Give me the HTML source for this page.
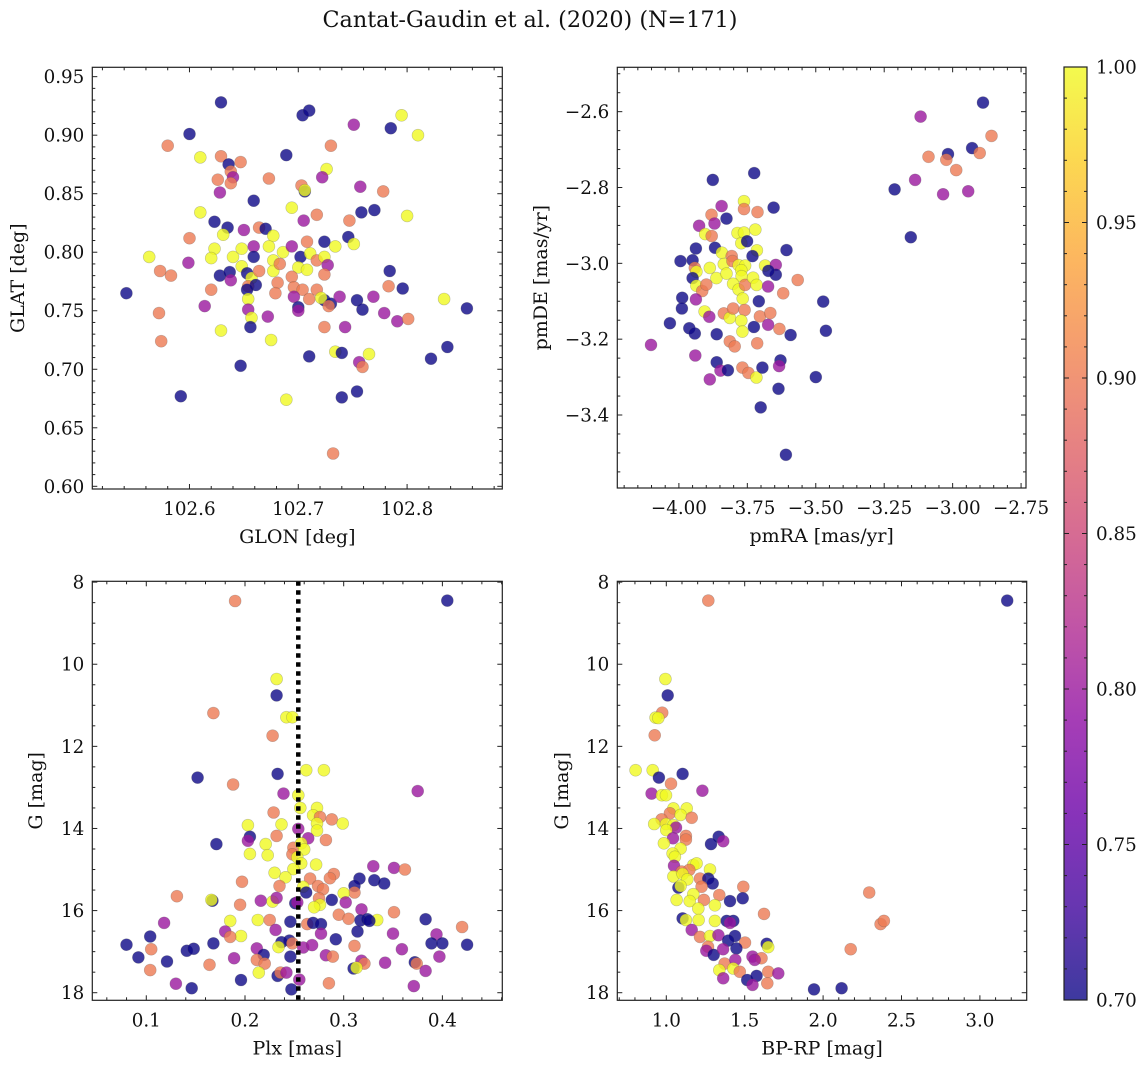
<!DOCTYPE html>
<html><head><meta charset="utf-8"><title>Cantat-Gaudin et al. (2020)</title>
<style>
html,body{margin:0;padding:0;background:#fff;}
svg{display:block;font-family:"DejaVu Serif","Liberation Serif",serif;}
</style></head>
<body>
<svg id="fig" width="1148" height="1067" viewBox="0 0 1148 1067" xmlns="http://www.w3.org/2000/svg">
<text x="530" y="27" font-size="22.3" text-anchor="middle" fill="#111">Cantat-Gaudin et al. (2020) (N=171)</text>
</svg>
<script>
// ---------- data (B=0.70, P=0.80, S=0.90, Y=1.00) ----------
const p1x=[102.629,102.704,102.710,102.600,102.751,102.785,102.795,102.810,102.580,102.689,102.730,102.610,102.629,102.636,102.647,102.638,102.640,102.638,102.626,102.673,102.726,102.722,102.703,102.706,102.706,102.628,102.757,102.778,102.659,102.610,102.694,102.717,102.705,102.747,102.758,102.770,102.800,102.623,102.635,102.631,102.600,102.650,102.664,102.670,102.677,102.708,102.724,102.734,102.746,102.751,102.563,102.623,102.620,102.599,102.573,102.583,102.628,102.637,102.640,102.648,102.659,102.659,102.648,102.653,102.657,102.664,102.673,102.677,102.677,102.686,102.694,102.683,102.702,102.700,102.708,102.711,102.717,102.724,102.727,102.724,102.694,102.696,102.704,102.681,102.679,102.654,102.661,102.653,102.638,102.620,102.542,102.572,102.614,102.654,102.654,102.657,102.656,102.672,102.696,102.700,102.700,102.710,102.717,102.724,102.721,102.730,102.738,102.728,102.724,102.743,102.754,102.759,102.769,102.779,102.783,102.784,102.796,102.791,102.801,102.834,102.855,102.837,102.822,102.574,102.629,102.675,102.647,102.710,102.734,102.740,102.765,102.756,102.759,102.592,102.689,102.740,102.754,102.732];
const p1y=[0.928,0.917,0.921,0.901,0.909,0.906,0.917,0.900,0.891,0.883,0.891,0.881,0.882,0.875,0.877,0.869,0.864,0.859,0.862,0.863,0.871,0.864,0.857,0.852,0.853,0.851,0.856,0.852,0.844,0.834,0.838,0.832,0.827,0.827,0.834,0.836,0.831,0.826,0.821,0.815,0.812,0.819,0.821,0.820,0.814,0.809,0.809,0.805,0.813,0.807,0.796,0.803,0.795,0.791,0.784,0.780,0.780,0.783,0.796,0.803,0.805,0.796,0.788,0.782,0.778,0.784,0.805,0.793,0.784,0.800,0.805,0.790,0.796,0.787,0.785,0.799,0.793,0.796,0.789,0.781,0.779,0.770,0.768,0.774,0.765,0.771,0.772,0.768,0.776,0.768,0.765,0.748,0.754,0.760,0.751,0.744,0.736,0.745,0.762,0.753,0.750,0.760,0.768,0.759,0.761,0.756,0.762,0.754,0.736,0.736,0.759,0.751,0.762,0.748,0.771,0.784,0.769,0.741,0.743,0.760,0.752,0.719,0.709,0.724,0.733,0.725,0.703,0.711,0.715,0.714,0.713,0.706,0.702,0.677,0.674,0.676,0.681,0.628];
const p1c=[0.7,0.7,0.7,0.7,0.8,0.7,1,1,0.9,0.7,0.9,1,0.9,0.7,0.9,0.9,0.8,0.9,0.9,0.9,1,0.8,0.9,0.7,1,0.8,0.8,0.9,0.7,1,1,0.9,0.8,0.9,0.7,0.7,1,0.7,0.7,1,0.9,0.8,0.9,0.7,1,0.9,0.7,1,0.7,1,1,1,1,0.8,0.9,0.9,0.7,0.7,1,1,0.8,0.7,1,0.7,1,0.9,1,1,1,1,0.8,0.9,0.7,1,1,1,0.9,1,0.8,0.9,0.9,0.9,0.9,0.9,0.9,0.9,0.7,0.7,0.8,0.9,0.7,0.9,0.8,1,0.8,1,0.7,0.8,0.8,0.7,0.8,0.9,0.9,0.7,1,0.7,0.8,0.9,0.9,0.8,0.7,0.7,0.8,0.8,0.9,0.7,0.7,0.8,0.9,1,0.7,0.7,0.7,0.9,1,1,0.7,0.7,1,0.7,1,0.8,0.9,0.7,1,0.7,0.7,0.9];

const p2x=[-2.889,-3.117,-2.858,-2.929,-2.901,-3.017,-3.088,-3.023,-2.987,-3.137,-3.212,-3.035,-2.943,-3.153,-3.725,-3.876,-3.762,-3.762,-3.713,-3.654,-3.844,-3.881,-3.826,-3.870,-3.926,-3.904,-3.880,-3.786,-3.762,-3.721,-3.772,-3.751,-3.715,-3.731,-3.607,-3.938,-3.868,-3.843,-3.807,-3.994,-3.950,-3.942,-3.936,-3.950,-3.936,-3.887,-3.863,-3.836,-3.826,-3.804,-3.782,-3.758,-3.772,-3.771,-3.802,-3.782,-3.767,-3.758,-3.729,-3.716,-3.685,-3.646,-3.646,-3.673,-3.674,-3.619,-3.566,-3.915,-3.900,-3.938,-3.988,-3.989,-4.033,-3.962,-3.942,-3.906,-3.889,-3.862,-3.836,-3.814,-3.802,-3.760,-3.772,-3.768,-3.814,-3.796,-3.726,-3.708,-3.704,-3.674,-3.666,-3.633,-3.592,-3.714,-3.473,-3.463,-4.102,-3.940,-3.862,-3.848,-3.821,-3.887,-3.768,-3.746,-3.717,-3.695,-3.629,-3.634,-3.500,-3.636,-3.701,-3.609];
const p2y=[-2.576,-2.613,-2.664,-2.696,-2.709,-2.712,-2.719,-2.727,-2.754,-2.780,-2.805,-2.818,-2.810,-2.931,-2.762,-2.780,-2.836,-2.857,-2.865,-2.853,-2.849,-2.872,-2.882,-2.895,-2.901,-2.923,-2.928,-2.920,-2.919,-2.911,-2.947,-2.942,-2.966,-2.981,-2.965,-2.961,-2.959,-2.972,-2.981,-2.994,-2.992,-3.012,-3.022,-3.039,-3.059,-3.012,-3.039,-3.002,-3.027,-2.994,-3.005,-3.006,-3.018,-3.034,-3.054,-3.069,-3.093,-3.057,-3.038,-3.057,-3.006,-3.004,-3.030,-3.020,-3.061,-3.079,-3.044,-3.073,-3.056,-3.095,-3.091,-3.119,-3.158,-3.171,-3.185,-3.127,-3.141,-3.187,-3.132,-3.144,-3.119,-3.123,-3.151,-3.180,-3.206,-3.219,-3.168,-3.100,-3.140,-3.162,-3.131,-3.173,-3.189,-3.211,-3.101,-3.178,-3.215,-3.243,-3.261,-3.283,-3.282,-3.306,-3.275,-3.289,-3.301,-3.275,-3.256,-3.271,-3.300,-3.331,-3.380,-3.505];
const p2c=[0.7,0.8,0.9,0.7,0.9,0.7,0.9,0.9,0.9,0.8,0.7,0.8,0.8,0.7,0.7,0.7,1,0.9,0.9,0.7,0.8,0.9,0.7,0.8,0.8,1,0.9,1,1,1,1,0.7,1,0.7,0.7,0.7,0.7,1,0.9,0.7,0.7,0.9,1,0.7,1,1,1,1,1,0.9,1,1,1,1,1,1,1,0.9,1,1,1,0.8,0.7,0.7,0.8,0.9,0.9,0.9,0.9,0.8,0.7,0.7,0.7,0.7,0.7,1,0.8,0.7,0.9,1,0.9,0.9,1,1,0.9,0.9,0.7,0.7,0.9,0.8,0.9,0.9,0.7,0.9,0.7,0.7,0.8,0.8,0.7,0.8,0.7,0.8,0.9,0.9,1,0.7,0.7,0.8,0.7,0.7,0.7,0.7];

const p3x=[0.190,0.405,0.232,0.232,0.168,0.242,0.248,0.228,0.262,0.280,0.233,0.152,0.188,0.239,0.254,0.375,0.256,0.273,0.269,0.276,0.288,0.299,0.273,0.229,0.203,0.237,0.273,0.254,0.205,0.203,0.232,0.264,0.282,0.171,0.221,0.223,0.205,0.249,0.257,0.260,0.248,0.253,0.257,0.272,0.249,0.330,0.351,0.362,0.230,0.241,0.266,0.290,0.286,0.316,0.331,0.341,0.197,0.235,0.259,0.274,0.279,0.311,0.311,0.300,0.262,0.131,0.167,0.166,0.216,0.228,0.232,0.251,0.253,0.275,0.276,0.270,0.288,0.302,0.195,0.318,0.351,0.295,0.305,0.383,0.420,0.317,0.324,0.334,0.326,0.185,0.213,0.225,0.246,0.263,0.269,0.277,0.118,0.104,0.196,0.180,0.185,0.231,0.314,0.277,0.350,0.394,0.080,0.105,0.141,0.148,0.168,0.237,0.245,0.248,0.259,0.268,0.292,0.311,0.359,0.389,0.400,0.425,0.092,0.121,0.189,0.212,0.219,0.212,0.220,0.234,0.246,0.282,0.289,0.318,0.321,0.342,0.372,0.374,0.397,0.383,0.104,0.164,0.214,0.233,0.236,0.242,0.255,0.310,0.313,0.196,0.130,0.146,0.247,0.285,0.371];
const p3y=[8.46,8.45,10.36,10.76,11.19,11.29,11.29,11.74,12.58,12.58,12.67,12.76,12.93,13.15,13.19,13.09,13.50,13.50,13.68,13.72,13.78,13.88,13.88,13.61,13.92,13.90,14.05,14.01,14.20,14.30,14.18,14.24,14.28,14.38,14.38,14.65,14.62,14.47,14.36,14.51,14.63,14.70,14.85,14.88,14.99,14.92,14.96,15.00,15.08,15.19,15.22,15.11,15.21,15.22,15.26,15.34,15.30,15.40,15.42,15.40,15.48,15.40,15.56,15.58,15.56,15.65,15.76,15.74,15.76,15.78,15.69,15.82,15.80,15.70,15.86,15.92,15.74,15.80,15.86,15.97,16.04,16.10,16.20,16.21,16.40,16.24,16.21,16.23,16.25,16.25,16.23,16.23,16.27,16.33,16.30,16.33,16.30,16.63,16.62,16.51,16.64,16.47,16.51,16.56,16.56,16.58,16.83,16.94,16.98,16.93,16.80,16.77,16.73,16.80,16.90,16.84,16.70,16.86,16.94,16.80,16.80,16.83,17.14,17.24,17.16,16.92,17.08,17.20,17.29,16.89,17.12,17.09,17.12,17.22,17.29,17.27,17.26,17.29,17.12,17.47,17.45,17.32,17.51,17.59,17.51,17.51,17.68,17.41,17.39,17.69,17.78,17.89,17.92,17.77,17.84];
const p3c=[0.9,0.7,1,0.7,0.9,1,1,0.9,1,1,0.7,0.7,0.9,0.8,1,0.8,1,1,1,0.9,0.9,1,1,0.9,1,1,1,0.8,0.7,0.8,0.9,0.8,0.9,0.7,1,1,1,0.9,1,1,0.9,1,1,1,1,0.8,0.8,0.9,1,1,0.9,0.9,0.9,0.7,0.7,0.7,0.9,0.9,1,0.9,0.9,0.7,0.9,1,0.7,0.9,0.7,1,0.8,1,0.8,0.7,0.8,0.9,1,1,0.7,0.8,0.9,0.8,0.9,0.9,0.9,0.7,0.9,0.7,0.7,1,0.7,1,1,0.9,0.7,0.9,0.7,0.7,0.8,0.7,1,0.8,0.9,0.8,0.7,0.8,0.8,0.8,0.7,0.9,0.7,0.7,0.7,0.7,0.7,0.9,0.8,0.8,0.7,0.9,0.8,0.7,0.7,0.7,0.7,0.7,0.8,0.8,0.7,0.9,0.9,1,0.7,0.8,0.9,0.8,0.9,0.8,0.7,0.9,0.8,0.8,0.9,0.9,1,0.7,0.9,0.8,0.8,0.7,1,0.7,0.8,0.7,0.7,0.9,0.8];

const p4x=[1.268,3.174,0.994,1.009,0.974,0.932,0.949,0.926,0.804,0.913,0.953,1.104,1.030,1.230,0.906,0.972,0.998,1.045,1.130,1.023,1.091,1.162,0.970,0.923,0.998,1.045,1.062,1.000,1.125,1.125,1.043,1.334,1.285,1.363,0.985,1.091,1.040,1.055,1.049,1.172,1.193,1.279,1.098,1.147,1.045,1.104,1.134,1.215,1.268,1.296,1.077,1.091,1.225,1.491,1.338,1.487,1.172,1.066,1.149,1.240,1.406,1.204,1.310,1.623,1.104,1.125,1.206,1.310,1.385,1.427,1.406,1.162,1.215,1.279,1.332,1.438,1.502,1.395,1.266,1.255,1.302,1.362,1.447,1.640,1.650,1.550,1.607,1.564,1.372,1.440,1.427,1.469,1.338,1.363,1.516,1.576,1.550,1.650,1.714,1.644,1.942,2.118,2.176,2.294,2.367,2.388];
const p4y=[8.45,8.45,10.36,10.76,11.18,11.30,11.31,11.73,12.58,12.58,12.76,12.67,12.91,13.08,13.15,13.19,13.19,13.51,13.51,13.63,13.67,13.74,13.78,13.89,13.89,13.92,13.98,14.04,14.18,14.27,14.24,14.20,14.38,14.31,14.36,14.49,14.61,14.69,14.91,14.89,14.85,15.00,15.05,15.01,15.17,15.11,15.24,15.22,15.22,15.34,15.44,15.40,15.42,15.42,15.62,15.70,15.60,15.74,15.77,15.74,15.77,15.95,15.87,16.08,16.19,16.23,16.23,16.25,16.25,16.25,16.30,16.47,16.64,16.62,16.60,16.62,16.78,16.73,16.88,16.98,17.08,16.94,16.92,16.81,16.89,17.12,17.16,17.20,17.29,17.20,17.41,17.49,17.45,17.65,17.69,17.59,17.81,17.49,17.53,17.77,17.92,17.89,16.94,15.56,16.33,16.25];
const p4c=[0.9,0.7,1,0.7,0.9,1,1,0.9,1,1,0.7,0.7,0.9,0.8,0.8,1,1,1,1,0.9,1,0.9,0.9,1,1,1,0.8,1,0.9,0.9,0.8,0.7,0.7,0.8,1,1,1,1,0.8,1,1,1,0.9,0.9,1,1,1,0.9,0.7,0.7,0.7,1,0.9,0.9,0.9,0.7,1,1,1,0.9,0.7,1,1,0.9,0.7,1,1,1,0.7,0.7,0.8,0.8,0.9,1,0.8,0.7,0.9,0.7,0.9,0.8,0.7,0.8,0.7,0.7,1,0.8,0.9,0.8,0.9,0.8,1,0.9,1,0.8,0.7,0.7,0.8,0.9,0.8,0.9,0.7,0.7,0.9,0.9,0.9,0.9];

const cbTicks=[0.70,0.75,0.80,0.85,0.90,0.95,1.00];
const plxRef=[0.254];

// ---------- helpers ----------
const NS="http://www.w3.org/2000/svg";
const svg=document.getElementById('fig');
function mk(tag,attrs,parent){const e=document.createElementNS(NS,tag);for(const k in attrs)e.setAttribute(k,attrs[k]);(parent||svg).appendChild(e);return e;}
const stops=['#0d0887','#41049d','#6a00a8','#8f0da4','#b12a90','#cc4778','#e16462','#f2844b','#fca636','#fcce25','#f0f921'];
function hex(h){return [parseInt(h.substr(1,2),16),parseInt(h.substr(3,2),16),parseInt(h.substr(5,2),16)];}
function plasma(t){t=Math.max(0,Math.min(1,t));const f=t*10,i=Math.min(9,Math.floor(f)),u=f-i;const a=hex(stops[i]),b=hex(stops[i+1]);return 'rgb('+a.map((v,k)=>Math.round(v+(b[k]-v)*u)).join(',')+')';}
function cmap(c){return plasma((c-0.7)/0.3);}
const MINUS='\u2212';
const TFS=18.3, LFS=19;

function panel(o){
  const g=mk('g',{});
  
  
  const X=v=>o.l+(v-o.xd[0])/(o.xd[1]-o.xd[0])*(o.r-o.l);
  const Y=o.yinv? (v=>o.t+(v-o.yd[0])/(o.yd[1]-o.yd[0])*(o.b-o.t)) : (v=>o.b-(v-o.yd[0])/(o.yd[1]-o.yd[0])*(o.b-o.t));
  const cp='clip-'+o.name;
  const cl=mk('clipPath',{id:cp},g);mk('rect',{x:o.l,y:o.t,width:o.r-o.l,height:o.b-o.t},cl);
  const pts=mk('g',{'clip-path':'url(#'+cp+')'},g);
  
  
  for(let i=0;i<o.x.length;i++){
    const c=mk('circle',{cx:X(o.x[i]).toFixed(1),cy:Y(o.y[i]).toFixed(1),r:6,fill:cmap(o.c[i]),'fill-opacity':0.8,stroke:'#555','stroke-opacity':0.35,'stroke-width':0.6},pts);
    
    
  }
  if(o.vline){
    const vl=mk('line',{x1:X(o.vline[0]),x2:X(o.vline[0]),y1:o.t,y2:o.b,stroke:'#000','stroke-width':4.5,'stroke-dasharray':'4.5,4.5'},g);
    
    
  }
  const tk=mk('g',{stroke:'#222','stroke-width':1},g);
  const eps=1e-9;
  for(let v=Math.ceil(o.xd[0]/o.xmin)*o.xmin;v<=o.xd[1]+eps;v+=o.xmin){const px=X(v);
    const major=o.xt.some(t=>Math.abs(t-v)<o.xmin/3);const L=major?5:3;
    mk('line',{x1:px,x2:px,y1:o.b,y2:o.b-L},tk);mk('line',{x1:px,x2:px,y1:o.t,y2:o.t+L},tk);}
  for(let v=Math.ceil(o.yd[0]/o.ymin)*o.ymin;v<=o.yd[1]+eps;v+=o.ymin){const py=Y(v);
    const major=o.yt.some(t=>Math.abs(t-v)<o.ymin/3);const L=major?5:3;
    mk('line',{x1:o.l,x2:o.l+L,y1:py,y2:py},tk);mk('line',{x1:o.r,x2:o.r-L,y1:py,y2:py},tk);}
  const fr=mk('rect',{x:o.l,y:o.t,width:o.r-o.l,height:o.b-o.t,fill:'none',stroke:'#222','stroke-width':1.2},g);
  
  
  o.xt.forEach(v=>{const t=mk('text',{x:X(v),y:o.b+26,'font-size':TFS,'text-anchor':'middle',fill:'#111'},g);t.textContent=o.xf(v);
    
    });
  o.yt.forEach(v=>{const t=mk('text',{x:o.l-8,y:Y(v)+6.5,'font-size':TFS,'text-anchor':'end',fill:'#111'},g);t.textContent=o.yf(v);
    
    });
  const xl=mk('text',{x:(o.l+o.r)/2,y:o.b+54,'font-size':LFS,'text-anchor':'middle',fill:'#111'},g);xl.textContent=o.xlab;
  
  
  const yl=mk('text',{x:0,y:0,'font-size':LFS,'text-anchor':'middle','dominant-baseline':'central',transform:'translate('+o.ylx+','+((o.t+o.b)/2)+') rotate(-90)',fill:'#111'},g);yl.textContent=o.ylab;
  
  
}
const neg=s=>s.replace('-',MINUS);
panel({name:'glon-glat-panel',l:92.3,t:67.3,r:502.3,b:489,xd:[102.5107,102.8875],yd:[0.5977,0.958],x:p1x,y:p1y,c:p1c,
  xt:[102.6,102.7,102.8],xmin:0.02,yt:[0.60,0.65,0.70,0.75,0.80,0.85,0.90,0.95],ymin:0.01,
  xf:v=>v.toFixed(1),yf:v=>v.toFixed(2),xlab:'GLON [deg]',ylab:'GLAT [deg]',ylx:18});
panel({name:'proper-motion-panel',l:617.3,t:67.3,r:1026,b:488,xd:[-4.225,-2.732],yd:[-3.5925,-2.483],x:p2x,y:p2y,c:p2c,
  xt:[-4.0,-3.75,-3.5,-3.25,-3.0,-2.75],xmin:0.05,yt:[-3.4,-3.2,-3.0,-2.8,-2.6],ymin:0.05,
  xf:v=>neg(v.toFixed(2)),yf:v=>neg(v.toFixed(1)),xlab:'pmRA [mas/yr]',ylab:'pmDE [mas/yr]',ylx:541});
panel({name:'parallax-mag-panel',l:92.3,t:581.3,r:502.3,b:1000.3,xd:[0.0453,0.4607],yd:[7.98,18.185],yinv:true,x:p3x,y:p3y,c:p3c,vline:plxRef,
  xt:[0.1,0.2,0.3,0.4],xmin:0.02,yt:[8,10,12,14,16,18],ymin:0.5,
  xf:v=>v.toFixed(1),yf:v=>String(Math.round(v)),xlab:'Plx [mas]',ylab:'G [mag]',ylx:36});
panel({name:'color-magnitude-panel',l:617.3,t:581.3,r:1026.7,b:1000.3,xd:[0.6875,3.2985],yd:[7.98,18.185],yinv:true,x:p4x,y:p4y,c:p4c,
  xt:[1.0,1.5,2.0,2.5,3.0],xmin:0.1,yt:[8,10,12,14,16,18],ymin:0.5,
  xf:v=>v.toFixed(1),yf:v=>String(Math.round(v)),xlab:'BP-RP [mag]',ylab:'G [mag]',ylx:562});

// colorbar
(function(){
  const l=1064,r=1087,t=67,b=1000;
  const g=mk('g',{});
  
  
  const defs=mk('defs',{},g);
  const lg=mk('linearGradient',{id:'cbg',x1:0,y1:1,x2:0,y2:0},defs);
  for(let i=0;i<=20;i++){mk('stop',{offset:(i/20),'stop-color':plasma(i/20),'stop-opacity':0.8},lg);}
  mk('rect',{x:l,y:t,width:r-l,height:b-t,fill:'url(#cbg)'},g);
  const Y=v=>b-(v-0.7)/0.3*(b-t);
  for(let v=0.70;v<=1.0001;v+=0.01){const major=cbTicks.some(k=>Math.abs(k-v)<0.003);const L=major?5:3;
    mk('line',{x1:r,x2:r-L,y1:Y(v),y2:Y(v),stroke:'#222','stroke-width':1},g);
    mk('line',{x1:l,x2:l+L,y1:Y(v),y2:Y(v),stroke:'#222','stroke-width':1},g);}
  mk('rect',{x:l,y:t,width:r-l,height:b-t,fill:'none',stroke:'#222','stroke-width':1.2},g);
  cbTicks.forEach(v=>{const tx=mk('text',{x:r+9,y:Y(v)+6.5,'font-size':TFS,fill:'#111'},g);tx.textContent=v.toFixed(2);
    
    });
})();
</script>
</body></html>
